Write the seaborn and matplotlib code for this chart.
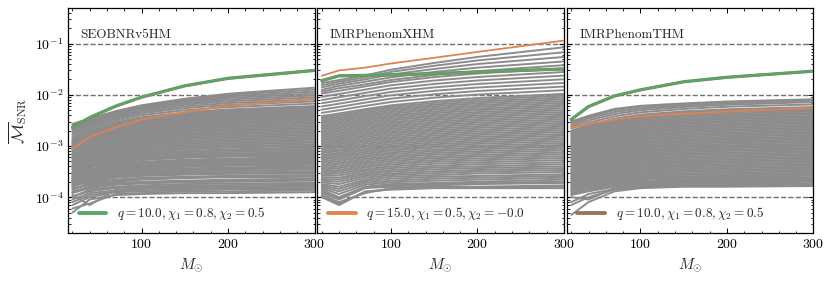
import matplotlib
matplotlib.use('Agg')
import matplotlib.pyplot as plt
from matplotlib.lines import Line2D
from matplotlib.ticker import MultipleLocator
import numpy as np
import pandas as pd
import seaborn as sns

# total mass grid (solar masses)
masses = [20, 40, 70, 100, 150, 200, 300]
approximants = ['SEOBNRv5HM', 'IMRPhenomXHM', 'IMRPhenomTHM']

# gray background curves, values in units of 1e-4
seob_grid = [
    [0.5, 0.9, 1.1, 1.15, 1.2, 1.2, 1.25],
    [0.6, 0.75, 1.15, 1.2, 1.3, 1.3, 1.35],
    [0.7, 1.0, 1.25, 1.3, 1.38, 1.42, 1.45],
    [0.8, 1.1, 1.3, 1.35, 1.4, 1.45, 1.5],
    [0.9, 1.2, 1.35, 1.45, 1.5, 1.55, 1.6],
    [1.1, 0.7, 1.4, 1.5, 1.6, 1.6, 1.7],
    [1.05, 1.3, 1.5, 1.6, 1.68, 1.72, 1.8],
    [1.0, 1.4, 1.6, 1.7, 1.8, 1.85, 1.9],
    [1.2, 1.5, 1.75, 1.85, 1.95, 2.0, 2.1],
    [1.25, 1.55, 1.8, 1.95, 2.05, 2.1, 2.2],
    [1.3, 1.6, 1.9, 2.0, 2.1, 2.2, 2.3],
    [1.5, 1.7, 2.0, 2.2, 2.35, 2.45, 2.5],
    [1.45, 1.8, 2.1, 2.3, 2.45, 2.55, 2.6],
    [1.4, 1.9, 2.2, 2.4, 2.5, 2.6, 2.7],
    [1.65, 2.0, 2.4, 2.6, 2.75, 2.85, 2.9],
    [1.7, 2.3, 2.6, 2.8, 3.0, 3.1, 3.0],
    [1.6, 2.1, 2.5, 2.7, 2.9, 3.0, 3.2],
    [1.75, 2.2, 2.7, 2.95, 3.2, 3.3, 3.45],
    [1.8, 2.4, 2.9, 3.1, 3.4, 3.5, 3.7],
    [1.9, 2.55, 3.1, 3.4, 3.6, 3.7, 3.85],
    [2.1, 2.5, 3.0, 3.3, 3.6, 3.8, 4.0],
    [2.0, 2.7, 3.3, 3.6, 3.9, 4.1, 4.3],
    [2.05, 2.75, 3.4, 3.8, 4.1, 4.3, 4.45],
    [2.3, 3.2, 3.9, 4.3, 4.6, 4.6, 4.6],
    [2.15, 2.9, 3.55, 3.95, 4.3, 4.5, 4.8],
    [2.2, 3.0, 3.7, 4.1, 4.5, 4.7, 5.0],
    [2.35, 3.1, 3.85, 4.3, 4.7, 4.9, 5.2],
    [2.6, 3.3, 4.0, 4.5, 4.9, 5.2, 5.4],
    [2.4, 3.4, 4.2, 4.7, 5.1, 5.4, 5.8],
    [2.5, 3.5, 4.4, 4.9, 5.4, 5.7, 6.05],
    [2.9, 4.0, 5.0, 5.6, 6.1, 6.4, 6.3],
    [2.7, 3.8, 4.7, 5.3, 5.9, 6.2, 6.7],
    [2.8, 3.9, 4.85, 5.45, 6.0, 6.35, 7.0],
    [2.95, 4.1, 5.1, 5.8, 6.4, 6.8, 7.3],
    [3.0, 4.2, 5.3, 6.0, 6.7, 7.1, 7.7],
    [3.1, 4.4, 5.6, 6.4, 7.1, 7.6, 8.2],
    [3.3, 4.7, 6.0, 6.8, 7.6, 8.1, 8.8],
    [3.5, 5.0, 6.4, 7.2, 8.0, 8.6, 9.4],
    [3.7, 5.2, 6.7, 7.7, 8.6, 9.3, 10.1],
    [3.9, 5.5, 7.1, 8.2, 9.2, 9.9, 10.8],
    [4.1, 5.8, 7.5, 8.7, 9.8, 10.6, 11.6],
    [4.3, 6.2, 8.0, 9.3, 10.4, 11.3, 12.4],
    [4.5, 6.5, 8.4, 9.8, 11.1, 12.1, 13.3],
    [4.8, 6.8, 8.9, 10.4, 11.8, 12.9, 14.2],
    [5.0, 7.2, 9.4, 11.0, 12.6, 13.8, 15.2],
    [5.2, 7.6, 10.0, 11.7, 13.5, 14.8, 16.3],
    [5.5, 8.0, 10.5, 12.4, 14.3, 15.7, 17.4],
    [5.8, 8.4, 11.1, 13.2, 15.2, 16.8, 18.6],
    [6.1, 8.9, 11.8, 14.0, 16.2, 17.9, 19.9],
    [6.4, 9.3, 12.5, 14.8, 17.2, 19.1, 21.3],
    [6.7, 9.8, 13.2, 15.7, 18.3, 20.3, 22.7],
    [7.0, 10.3, 13.9, 16.6, 19.5, 21.6, 24.3],
    [7.4, 10.9, 14.7, 17.6, 20.7, 23.0, 25.9],
    [7.8, 11.4, 15.5, 18.6, 22.0, 24.5, 27.6],
    [8.1, 12.0, 16.3, 19.7, 23.3, 26.0, 29.4],
    [8.5, 12.6, 17.2, 20.8, 24.7, 27.7, 31.4],
    [8.9, 13.2, 18.1, 22.0, 26.2, 29.4, 33.4],
    [9.4, 13.8, 19.0, 23.2, 27.8, 31.2, 35.6],
    [9.8, 14.5, 20.0, 24.5, 29.4, 33.1, 37.8],
    [10.2, 15.2, 21.0, 25.8, 31.1, 35.1, 40.2],
    [10.7, 15.9, 22.1, 27.2, 32.9, 37.2, 42.7],
    [11.2, 16.6, 23.2, 28.6, 34.8, 39.4, 45.4],
    [11.7, 17.4, 24.3, 30.1, 36.7, 41.7, 48.1],
    [12.2, 18.2, 25.4, 31.6, 38.7, 44.1, 51.0],
    [12.8, 19.0, 26.6, 33.2, 40.8, 46.6, 54.0],
    [13.4, 19.8, 27.8, 34.8, 43.0, 49.2, 57.2],
    [14.0, 20.6, 29.0, 36.5, 45.2, 51.9, 60.4],
    [15.3, 22.3, 31.5, 40.0, 50.0, 57.6, 67.3],
    [16.7, 24.0, 34.0, 43.5, 55.0, 63.5, 74.5],
    [18.0, 25.5, 36.0, 46.5, 59.5, 69.0, 81.5],
    [19.5, 27.0, 38.0, 49.5, 64.0, 75.0, 89.0],
    [21.0, 28.5, 40.0, 52.5, 68.0, 81.0, 97.0],
    [22.5, 30.0, 42.0, 55.0, 72.0, 87.0, 106.0],
    [24.0, 31.5, 44.0, 57.5, 76.0, 93.0, 116.0],
    [25.5, 33.0, 46.0, 60.0, 80.0, 99.0, 127.0],
    [27.0, 34.5, 48.0, 62.5, 84.0, 105.0, 138.0],
]
xhm_grid = [
    [1.0, 0.7, 1.3, 1.4, 1.5, 1.5, 1.5],
    [1.05, 0.75, 1.25, 1.45, 1.55, 1.55, 1.6],
    [1.1, 0.8, 1.2, 1.5, 1.6, 1.6, 1.7],
    [1.2, 0.9, 1.5, 1.6, 1.7, 1.8, 1.9],
    [1.3, 0.95, 1.55, 1.7, 1.8, 1.9, 2.0],
    [1.4, 1.0, 1.6, 1.8, 1.9, 2.0, 2.2],
    [1.5, 1.15, 1.75, 1.95, 2.1, 2.2, 2.4],
    [1.6, 1.3, 1.9, 2.1, 2.3, 2.4, 2.6],
    [1.7, 1.45, 2.05, 2.3, 2.5, 2.6, 2.8],
    [1.8, 1.6, 2.2, 2.5, 2.7, 2.9, 3.1],
    [1.95, 1.8, 2.4, 2.7, 2.95, 3.15, 3.4],
    [2.1, 2.0, 2.6, 2.9, 3.2, 3.4, 3.7],
    [2.25, 2.2, 2.8, 3.15, 3.5, 3.7, 4.0],
    [2.4, 2.4, 3.0, 3.4, 3.8, 4.0, 4.4],
    [2.6, 2.65, 3.25, 3.7, 4.1, 4.4, 4.8],
    [2.8, 2.9, 3.5, 4.0, 4.5, 4.8, 5.3],
    [3.0, 3.15, 3.8, 4.35, 4.9, 5.25, 5.8],
    [3.2, 3.4, 4.1, 4.7, 5.3, 5.7, 6.3],
    [3.45, 3.7, 4.45, 5.1, 5.75, 6.2, 6.9],
    [3.7, 4.0, 4.8, 5.5, 6.2, 6.7, 7.5],
    [4.0, 4.35, 5.2, 5.95, 6.75, 7.3, 8.2],
    [4.3, 4.7, 5.6, 6.4, 7.3, 7.9, 8.9],
    [4.65, 5.1, 6.05, 6.95, 7.9, 8.6, 9.7],
    [5.0, 5.5, 6.5, 7.5, 8.5, 9.3, 10.5],
    [5.4, 5.95, 7.05, 8.1, 9.25, 10.1, 11.4],
    [5.8, 6.4, 7.6, 8.7, 10.0, 11.0, 12.4],
    [6.25, 6.9, 8.2, 9.4, 10.8, 11.9, 13.5],
    [6.7, 7.4, 8.8, 10.1, 11.7, 12.9, 14.6],
    [7.25, 8.0, 9.5, 10.9, 12.7, 14.0, 15.9],
    [7.8, 8.6, 10.2, 11.8, 13.7, 15.1, 17.2],
    [8.4, 9.3, 11.0, 12.7, 14.8, 16.4, 18.7],
    [9.0, 10.0, 11.9, 13.7, 16.0, 17.7, 20.3],
    [9.7, 10.8, 12.8, 14.8, 17.3, 19.2, 22.0],
    [10.4, 11.6, 13.8, 16.0, 18.7, 20.8, 23.9],
    [11.2, 12.5, 14.9, 17.3, 20.2, 22.6, 26.0],
    [12.0, 13.4, 16.0, 18.6, 21.8, 24.4, 28.2],
    [12.9, 14.4, 17.3, 20.1, 23.6, 26.5, 30.6],
    [13.9, 15.5, 18.6, 21.7, 25.5, 28.6, 33.2],
    [15.0, 16.7, 20.1, 23.4, 27.6, 31.0, 36.1],
    [16.1, 18.0, 21.6, 25.2, 29.8, 33.5, 39.1],
    [17.3, 19.4, 23.3, 27.2, 32.3, 36.4, 42.5],
    [18.6, 20.8, 25.0, 29.3, 34.8, 39.3, 46.1],
    [20.0, 22.4, 27.0, 31.7, 37.7, 42.6, 50.1],
    [21.5, 24.1, 29.0, 34.1, 40.6, 46.0, 54.3],
    [23.1, 26.0, 31.3, 36.8, 44.0, 50.0, 59.1],
    [24.8, 27.9, 33.6, 39.6, 47.4, 53.9, 64.0],
    [26.7, 30.1, 36.3, 42.8, 51.3, 58.5, 69.6],
    [28.7, 32.3, 39.0, 46.1, 55.3, 63.1, 75.4],
    [30.9, 34.8, 42.1, 49.8, 59.8, 68.4, 82.0],
    [33.2, 37.4, 45.2, 53.6, 64.5, 73.9, 88.8],
    [35.8, 40.3, 48.8, 57.9, 69.8, 80.1, 96.6],
    [38.4, 43.3, 52.4, 62.3, 75.3, 86.5, 104.6],
    [44.4, 50.1, 60.7, 72.4, 87.9, 101.3, 123.2],
    [51.3, 58.0, 70.3, 84.2, 102.6, 118.6, 145.1],
    [59.3, 67.1, 81.4, 97.9, 119.8, 138.9, 171.0],
    [68.6, 77.6, 94.3, 113.8, 139.8, 162.7, 201.4],
    [79.3, 89.8, 109.2, 132.3, 163.2, 190.5, 237.3],
    [91.7, 104.0, 126.5, 153.8, 190.5, 223.1, 279.6],
    [106.0, 120.0, 146.0, 178.0, 222.0, 261.0, 329.0],
    [115.0, 135.0, 160.0, 195.0, 245.0, 290.0, 380.0],
    [125.0, 150.0, 180.0, 220.0, 280.0, 340.0, 450.0],
    [140.0, 165.0, 200.0, 250.0, 320.0, 400.0, 550.0],
    [155.0, 180.0, 220.0, 280.0, 370.0, 470.0, 680.0],
    [170.0, 195.0, 240.0, 310.0, 420.0, 550.0, 850.0],
]
thm_grid = [
    [0.45, 0.8, 1.3, 1.5, 1.6, 1.6, 1.65],
    [0.7, 1.0, 1.4, 1.55, 1.65, 1.7, 1.75],
    [0.8, 1.15, 1.45, 1.6, 1.7, 1.75, 1.8],
    [1.0, 0.9, 1.5, 1.65, 1.75, 1.8, 1.85],
    [1.1, 1.3, 1.6, 1.75, 1.85, 1.9, 2.0],
    [1.15, 1.4, 1.7, 1.82, 1.92, 2.0, 2.1],
    [1.2, 1.45, 1.75, 1.9, 2.0, 2.1, 2.2],
    [1.3, 1.55, 1.85, 2.0, 2.12, 2.22, 2.32],
    [1.35, 1.6, 1.95, 2.1, 2.25, 2.35, 2.45],
    [1.42, 1.7, 2.07, 2.25, 2.4, 2.5, 2.62],
    [1.5, 1.8, 2.2, 2.4, 2.55, 2.65, 2.8],
    [1.58, 1.9, 2.32, 2.55, 2.72, 2.82, 3.0],
    [1.65, 2.0, 2.45, 2.7, 2.9, 3.0, 3.2],
    [1.75, 2.12, 2.6, 2.88, 3.1, 3.22, 3.42],
    [1.85, 2.25, 2.75, 3.05, 3.3, 3.45, 3.65],
    [1.95, 2.38, 2.92, 3.25, 3.52, 3.68, 3.9],
    [2.05, 2.5, 3.1, 3.45, 3.75, 3.9, 4.15],
    [2.18, 2.65, 3.3, 3.68, 4.0, 4.18, 4.45],
    [2.3, 2.8, 3.5, 3.9, 4.25, 4.45, 4.75],
    [2.42, 2.98, 3.72, 4.15, 4.52, 4.75, 5.07],
    [2.55, 3.15, 3.95, 4.4, 4.8, 5.05, 5.4],
    [2.7, 3.35, 4.2, 4.7, 5.12, 5.4, 5.77],
    [2.85, 3.55, 4.45, 5.0, 5.45, 5.75, 6.15],
    [3.02, 3.78, 4.72, 5.32, 5.82, 6.15, 6.57],
    [3.2, 4.0, 5.0, 5.65, 6.2, 6.55, 7.0],
    [3.4, 4.25, 5.32, 6.02, 6.62, 7.0, 7.5],
    [3.6, 4.5, 5.65, 6.4, 7.05, 7.45, 8.0],
    [3.8, 4.78, 6.02, 6.82, 7.52, 7.98, 8.55],
    [4.0, 5.05, 6.4, 7.25, 8.0, 8.5, 9.1],
    [4.25, 5.38, 6.8, 7.72, 8.55, 9.08, 9.75],
    [4.5, 5.7, 7.2, 8.2, 9.1, 9.65, 10.4],
    [4.78, 6.05, 7.68, 8.75, 9.7, 10.3, 11.1],
    [5.05, 6.4, 8.15, 9.3, 10.3, 11.0, 11.9],
    [5.35, 6.8, 8.68, 9.9, 11.0, 11.75, 12.7],
    [5.65, 7.2, 9.2, 10.5, 11.7, 12.5, 13.5],
    [6.0, 7.65, 9.8, 11.2, 12.5, 13.35, 14.45],
    [6.35, 8.1, 10.4, 11.9, 13.3, 14.2, 15.4],
    [6.72, 8.6, 11.05, 12.7, 14.2, 15.2, 16.5],
    [7.1, 9.1, 11.7, 13.5, 15.1, 16.2, 17.6],
    [7.55, 9.65, 12.45, 14.4, 16.15, 17.3, 18.85],
    [8.0, 10.2, 13.2, 15.3, 17.2, 18.4, 20.1],
    [8.5, 10.85, 14.05, 16.3, 18.35, 19.7, 21.5],
    [9.0, 11.5, 14.9, 17.3, 19.5, 21.0, 22.9],
    [9.55, 12.2, 15.85, 18.45, 20.85, 22.45, 24.5],
    [10.1, 12.9, 16.8, 19.6, 22.2, 23.9, 26.1],
    [10.7, 13.7, 17.9, 20.9, 23.7, 25.55, 27.95],
    [11.3, 14.5, 19.0, 22.2, 25.2, 27.2, 29.8],
    [12.0, 15.4, 20.2, 23.65, 26.9, 29.1, 31.9],
    [12.7, 16.3, 21.4, 25.1, 28.6, 31.0, 34.0],
    [13.45, 17.3, 22.75, 26.75, 30.55, 33.15, 36.4],
    [14.2, 18.3, 24.1, 28.4, 32.5, 35.3, 38.8],
    [15.05, 19.4, 25.6, 30.2, 34.7, 37.75, 41.55],
    [15.9, 20.5, 27.1, 32.1, 36.9, 40.2, 44.3],
    [16.85, 21.75, 28.8, 34.2, 39.4, 43.0, 47.45],
    [17.8, 23.0, 30.5, 36.3, 41.9, 45.8, 50.6],
    [18.85, 24.4, 32.4, 38.65, 44.75, 49.0, 54.2],
    [19.9, 25.8, 34.3, 41.0, 47.6, 52.2, 57.8],
    [22.0, 28.5, 38.0, 45.5, 53.0, 58.5, 65.0],
    [24.0, 31.5, 42.0, 50.0, 58.0, 64.0, 72.0],
    [26.0, 34.5, 46.0, 54.0, 62.0, 68.0, 77.0],
    [28.0, 37.0, 50.0, 58.0, 66.0, 72.0, 80.0],
    [30.0, 39.0, 53.0, 61.0, 68.0, 74.0, 82.0],
]

# worst cases: q=10 (chi1=0.8, chi2=0.5) and q=15 (chi1=0.5, chi2=-0.0)
q10_seob = [2.3e-3, 3.6e-3, 6.0e-3, 9.0e-3, 1.5e-2, 2.1e-2, 3.0e-2]
q10_xhm = [1.9e-2, 2.35e-2, 2.4e-2, 2.45e-2, 2.6e-2, 2.8e-2, 3.2e-2]
q10_thm = [3.3e-3, 5.9e-3, 9.5e-3, 1.25e-2, 1.8e-2, 2.2e-2, 2.9e-2]
q15_seob = [8.8e-4, 1.5e-3, 2.3e-3, 3.3e-3, 4.6e-3, 6.1e-3, 8.3e-3]
q15_xhm = [2.35e-2, 3.0e-2, 3.4e-2, 4.1e-2, 5.3e-2, 6.9e-2, 1.15e-1]
q15_thm = [2.3e-3, 2.7e-3, 3.3e-3, 3.8e-3, 4.3e-3, 4.7e-3, 5.6e-3]

labels = [r'$q=10.0, \chi_1=0.8, \chi_2=0.5$',
          r'$q=15.0, \chi_1=0.5, \chi_2=-0.0$',
          r'$q=10.0, \chi_1=0.8, \chi_2=0.5$']
thresholds = [1e-4, 1e-3, 1e-2, 1e-1]

pal = sns.color_palette('deep')
c_green, c_orange, c_brown = pal[2], pal[1], pal[5]
legend_colors = [c_green, c_orange, c_brown]

rows = []
for name, grid in zip(approximants, [seob_grid, xhm_grid, thm_grid]):
    for i, curve in enumerate(grid):
        for m, v in zip(masses, curve):
            rows.append((name, i, m, v * 1e-4))
gray_df = pd.DataFrame(rows, columns=['approximant', 'curve', 'mass', 'mismatch'])

sns.set_theme(style='ticks')
plt.rcParams.update({
    'font.family': ['cmr10', 'DejaVu Serif'],
    'mathtext.fontset': 'cm',
    'axes.formatter.use_mathtext': True,
    'axes.linewidth': 0.9,
    'axes.edgecolor': 'black',
    'xtick.direction': 'in', 'ytick.direction': 'in',
    'xtick.top': True, 'ytick.right': True,
    'xtick.minor.visible': True, 'ytick.minor.visible': True,
    'xtick.major.size': 3.5, 'ytick.major.size': 3.5,
    'xtick.minor.size': 1.8, 'ytick.minor.size': 1.8,
    'xtick.major.width': 0.7, 'ytick.major.width': 0.7,
    'xtick.minor.width': 0.6, 'ytick.minor.width': 0.6,
    'xtick.labelsize': 10, 'ytick.labelsize': 10,
    'xtick.color': 'black', 'ytick.color': 'black',
})

fig, axes = plt.subplots(1, 3, figsize=(8.3, 2.82), dpi=100, sharex=True, sharey=True)
fig.subplots_adjust(left=0.082, right=0.98, top=0.972, bottom=0.174, wspace=0.012)

q10_all = [q10_seob, q10_xhm, q10_thm]
q15_all = [q15_seob, q15_xhm, q15_thm]
for k, ax in enumerate(axes):
    name = approximants[k]
    for t in thresholds:
        ax.axhline(t, color='#707070', ls='--', lw=1.0, zorder=0)
    sns.lineplot(data=gray_df[gray_df.approximant == name], x='mass', y='mismatch',
                 units='curve', estimator=None, color='#8c8c8c', lw=1.4,
                 ax=ax, legend=False, zorder=1)
    sns.lineplot(x=masses, y=q10_all[k], color=c_brown, lw=2.3, ax=ax, zorder=3)
    sns.lineplot(x=masses, y=q15_all[k], color=c_orange, lw=1.3, ax=ax, zorder=4)
    sns.lineplot(x=masses, y=q10_all[k], color=c_green, lw=1.8, ax=ax, zorder=5)
    ax.set_yscale('log')
    ax.set_ylim(2e-5, 0.5)
    ax.set_xlim(15, 300)
    ax.xaxis.set_major_locator(MultipleLocator(100))
    ax.xaxis.set_minor_locator(MultipleLocator(20))
    ax.text(0.05, 0.88, name, transform=ax.transAxes, fontsize=9.5, va='center')
    ax.set_xlabel(r'$M_{\odot}$', fontsize=11)
    ax.set_ylabel('')
    h = Line2D([], [], color=legend_colors[k], lw=2.8)
    ax.legend(handles=[h], labels=[labels[k]], loc='lower left', frameon=False,
              fontsize=9.5, handlelength=2.1, borderaxespad=0.4)

axes[0].set_ylabel(r'$\overline{\mathcal{M}}_{\rm SNR}$', fontsize=12)
plt.savefig('out.png', dpi=100)
